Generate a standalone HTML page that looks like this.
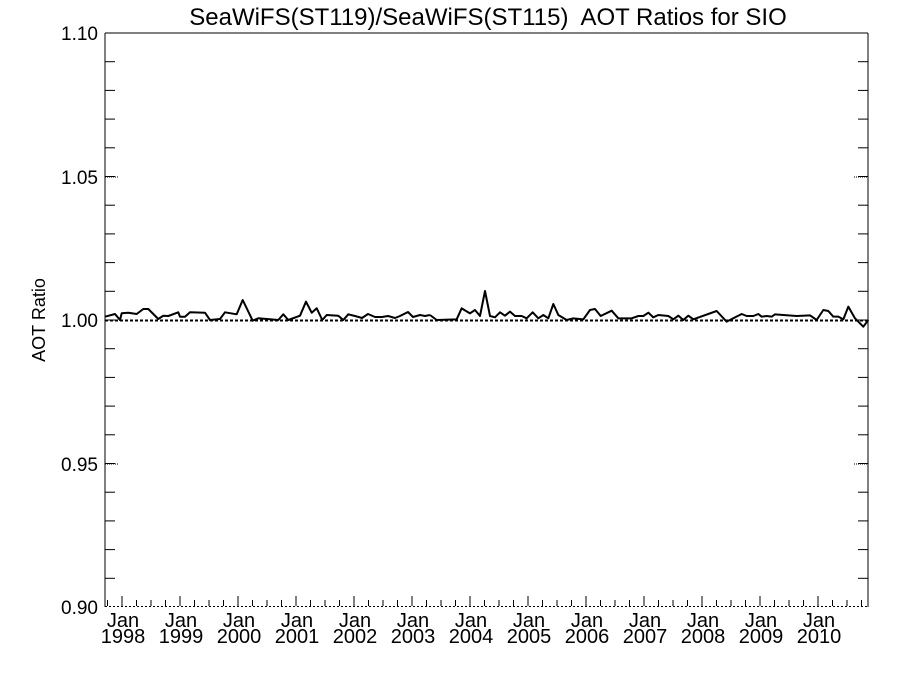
<!DOCTYPE html>
<html><head><meta charset="utf-8"><style>
html,body{margin:0;padding:0;background:#fff}
svg{display:block;font-family:"Liberation Sans",Arial,sans-serif}
</style></head><body>
<svg width="900" height="675" viewBox="0 0 900 675" xmlns="http://www.w3.org/2000/svg">
<rect width="900" height="675" fill="#fff"/>
<text x="488" y="25" font-size="24" text-anchor="middle">SeaWiFS(ST119)/SeaWiFS(ST115)&#160; AOT Ratios for SIO</text>
<text transform="translate(45,320) rotate(-90)" font-size="18" text-anchor="middle">AOT Ratio</text>
<g font-size="19" text-anchor="end">
<text x="98" y="40">1.10</text>
<text x="98" y="184">1.05</text>
<text x="98" y="327">1.00</text>
<text x="98" y="471">0.95</text>
<text x="98" y="614">0.90</text>
</g>
<g stroke="#000" stroke-width="1" fill="none">
<line x1="105" y1="33" x2="868" y2="33"/>
<line x1="105" y1="33" x2="105" y2="607"/>
<line x1="868" y1="33" x2="868" y2="607"/>
<line x1="105" y1="606.5" x2="868" y2="606.5" stroke-dasharray="2,2"/>
<line x1="105" y1="177" x2="119" y2="177" stroke-dasharray="1,1"/>
<line x1="105" y1="464" x2="119" y2="464" stroke-dasharray="1,1"/>
<line x1="854" y1="177" x2="868" y2="177" stroke-dasharray="1,1"/>
<line x1="854" y1="464" x2="868" y2="464" stroke-dasharray="1,1"/>
<line x1="105" y1="320.5" x2="868" y2="320.5" stroke-width="2" stroke-dasharray="3,2"/>
</g>
<g id="yt" stroke="#000" stroke-width="1"></g>
<g id="xt" stroke="#000" stroke-width="1"></g>
<g font-size="20" text-anchor="middle" id="xl"></g>
<g fill="none" stroke="#000" stroke-width="2" stroke-linejoin="round">
<polyline points="105,316.7 115,314 120,320 121.7,313.3 128.3,312.7 136.7,314 143.3,309 148.3,309 158.3,319 163.3,315.7 168.3,316 178.3,312.3 180,316.7 185,316.7 190,312.3 205,312.7 210,320 220,319 225,312.3 236.7,314.3 242.7,300 252.7,320.7 258.3,318.3 278.3,320 283.3,314.3 288.3,320 300,315.7 306,301.7 311.7,312.7 316.7,308.3 322.3,320 326.7,315 338.3,315.7 343.3,320 348.3,314.3 355,316 362,318 368,314 375,317 382,317 388,316 395,318 400,316 408,312 413,317 420,315 425,316 430,315"/>
<polyline transform="translate(430,280) scale(0.33333)" vector-effect="non-scaling-stroke" points="0,105 20,120 80,118 95,85 120,100 135,90 150,108 165,33 180,108 195,112 210,97 225,107 240,95 255,108 275,108 290,115 308,97 325,115 340,105 355,115 370,72 385,105 410,120 430,115 460,118 480,90 495,87 512,108 545,92 565,115 605,115 625,108 640,108 655,98 670,112 685,105 715,108 730,118 745,107 760,120 775,107 790,118 860,93 890,125 935,102 950,108 970,108 985,102 995,110 1010,108 1025,110 1035,103 1100,108 1140,106 1160,120 1180,90 1195,93 1210,110 1225,110 1240,118 1255,80 1275,115 1300,140 1315,120"/>
</g>
<script>
var ns="http://www.w3.org/2000/svg";
function L(g,x1,y1,x2,y2){var l=document.createElementNS(ns,"line");l.setAttribute("x1",x1);l.setAttribute("y1",y1);l.setAttribute("x2",x2);l.setAttribute("y2",y2);document.getElementById(g).appendChild(l);}
for(var i=0;i<=20;i++){var y=33+i*28.7;if(i==0||i==20)continue;L("yt",105,y,115,y);L("yt",858,y,868,y);}
var m=4.8333;
for(var k=-1;k<60;k++){var x=122+k*3*m;if(x<106||x>867)continue;var big=(k%4==0);L("xt",x,606,x,big?596:600);}
for(var yr=0;yr<13;yr++){var x=122+yr*58;var t=document.createElementNS(ns,"text");t.setAttribute("x",x+1);t.setAttribute("y",627);t.textContent="Jan";document.getElementById("xl").appendChild(t);
var t2=document.createElementNS(ns,"text");t2.setAttribute("x",x+1);t2.setAttribute("y",643);t2.textContent=1998+yr;document.getElementById("xl").appendChild(t2);}
</script>
</svg>
</body></html>
